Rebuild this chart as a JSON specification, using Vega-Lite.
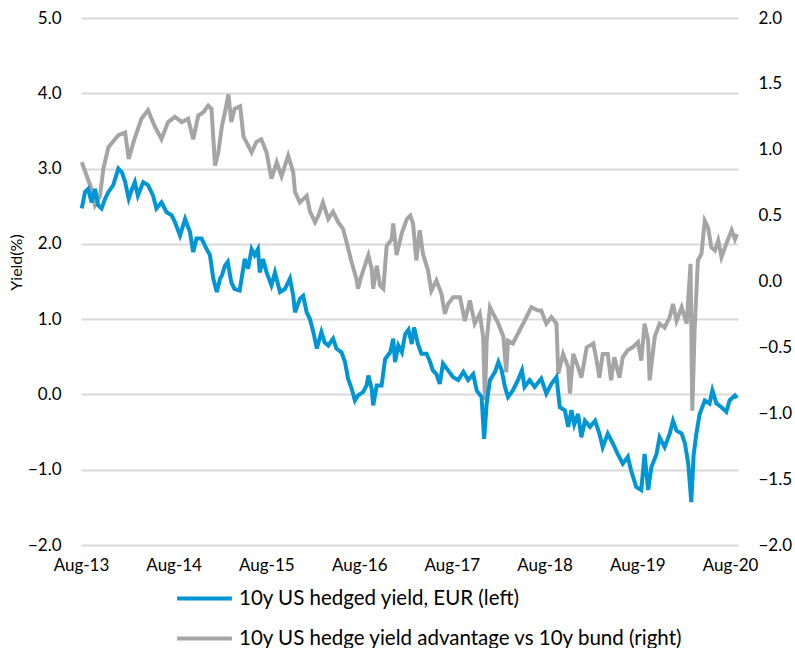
{
  "$schema": "https://vega.github.io/schema/vega-lite/v6.json",
  "autosize": "none",
  "width": 657,
  "height": 527,
  "padding": {"left": 81, "top": 18, "right": 57, "bottom": 103},
  "background": "white",
  "datasets": {
    "hedged": [
      {"date": "2013-08-04", "v": 2.47}, {"date": "2013-08-17", "v": 2.69}, {"date": "2013-08-29", "v": 2.73}, {"date": "2013-09-12", "v": 2.55},
      {"date": "2013-09-25", "v": 2.73}, {"date": "2013-10-08", "v": 2.51}, {"date": "2013-10-21", "v": 2.47}, {"date": "2013-11-04", "v": 2.60},
      {"date": "2013-11-17", "v": 2.69}, {"date": "2013-12-06", "v": 2.78}, {"date": "2013-12-26", "v": 3.00}, {"date": "2014-01-09", "v": 2.95},
      {"date": "2014-01-22", "v": 2.82}, {"date": "2014-02-05", "v": 2.60}, {"date": "2014-02-18", "v": 2.73}, {"date": "2014-03-01", "v": 2.82},
      {"date": "2014-03-13", "v": 2.64}, {"date": "2014-04-03", "v": 2.82}, {"date": "2014-04-22", "v": 2.78}, {"date": "2014-05-12", "v": 2.64},
      {"date": "2014-05-25", "v": 2.47}, {"date": "2014-06-14", "v": 2.55}, {"date": "2014-07-04", "v": 2.42}, {"date": "2014-07-24", "v": 2.38},
      {"date": "2014-08-06", "v": 2.29}, {"date": "2014-08-26", "v": 2.11}, {"date": "2014-09-15", "v": 2.33}, {"date": "2014-10-04", "v": 2.16},
      {"date": "2014-10-17", "v": 1.89}, {"date": "2014-10-30", "v": 2.07}, {"date": "2014-11-19", "v": 2.07}, {"date": "2014-12-09", "v": 1.93},
      {"date": "2014-12-22", "v": 1.85}, {"date": "2015-01-04", "v": 1.54}, {"date": "2015-01-18", "v": 1.36}, {"date": "2015-01-31", "v": 1.54},
      {"date": "2015-02-07", "v": 1.58}, {"date": "2015-02-19", "v": 1.71}, {"date": "2015-03-02", "v": 1.76}, {"date": "2015-03-16", "v": 1.49},
      {"date": "2015-03-29", "v": 1.40}, {"date": "2015-04-18", "v": 1.38}, {"date": "2015-05-08", "v": 1.80}, {"date": "2015-05-21", "v": 1.67},
      {"date": "2015-06-04", "v": 1.93}, {"date": "2015-06-16", "v": 1.85}, {"date": "2015-06-29", "v": 1.93}, {"date": "2015-07-06", "v": 1.62},
      {"date": "2015-07-19", "v": 1.80}, {"date": "2015-08-02", "v": 1.62}, {"date": "2015-08-21", "v": 1.45}, {"date": "2015-09-04", "v": 1.62},
      {"date": "2015-09-24", "v": 1.36}, {"date": "2015-10-13", "v": 1.40}, {"date": "2015-11-02", "v": 1.54}, {"date": "2015-11-15", "v": 1.31},
      {"date": "2015-11-22", "v": 1.09}, {"date": "2015-12-11", "v": 1.27}, {"date": "2015-12-24", "v": 1.31}, {"date": "2016-01-07", "v": 1.09},
      {"date": "2016-01-20", "v": 1.00}, {"date": "2016-02-02", "v": 0.83}, {"date": "2016-02-16", "v": 0.61}, {"date": "2016-03-05", "v": 0.83},
      {"date": "2016-03-18", "v": 0.69}, {"date": "2016-04-01", "v": 0.65}, {"date": "2016-04-20", "v": 0.74}, {"date": "2016-05-03", "v": 0.61},
      {"date": "2016-05-23", "v": 0.56}, {"date": "2016-06-06", "v": 0.43}, {"date": "2016-06-18", "v": 0.21}, {"date": "2016-07-02", "v": 0.076},
      {"date": "2016-07-15", "v": -0.08}, {"date": "2016-07-27", "v": -0.013}, {"date": "2016-08-16", "v": 0.03}, {"date": "2016-08-30", "v": 0.12},
      {"date": "2016-09-06", "v": 0.25}, {"date": "2016-09-19", "v": 0.076}, {"date": "2016-09-25", "v": -0.146}, {"date": "2016-10-09", "v": 0.12},
      {"date": "2016-10-28", "v": 0.12}, {"date": "2016-11-11", "v": 0.47}, {"date": "2016-12-01", "v": 0.56}, {"date": "2016-12-13", "v": 0.74},
      {"date": "2016-12-20", "v": 0.43}, {"date": "2017-01-02", "v": 0.65}, {"date": "2017-01-16", "v": 0.56}, {"date": "2017-01-29", "v": 0.80},
      {"date": "2017-02-11", "v": 0.86}, {"date": "2017-02-24", "v": 0.67}, {"date": "2017-03-05", "v": 0.89}, {"date": "2017-03-20", "v": 0.67},
      {"date": "2017-04-03", "v": 0.54}, {"date": "2017-04-23", "v": 0.54}, {"date": "2017-05-05", "v": 0.45}, {"date": "2017-05-18", "v": 0.32},
      {"date": "2017-06-01", "v": 0.27}, {"date": "2017-06-14", "v": 0.14}, {"date": "2017-06-27", "v": 0.41}, {"date": "2017-07-17", "v": 0.32},
      {"date": "2017-08-06", "v": 0.23}, {"date": "2017-08-26", "v": 0.19}, {"date": "2017-09-15", "v": 0.30}, {"date": "2017-10-04", "v": 0.19},
      {"date": "2017-10-24", "v": 0.27}, {"date": "2017-11-07", "v": 0.05}, {"date": "2017-11-26", "v": -0.036}, {"date": "2017-12-06", "v": -0.59},
      {"date": "2017-12-16", "v": -0.12}, {"date": "2017-12-29", "v": 0.19}, {"date": "2018-01-18", "v": 0.30}, {"date": "2018-01-31", "v": 0.43},
      {"date": "2018-02-13", "v": 0.32}, {"date": "2018-02-26", "v": 0.10}, {"date": "2018-03-10", "v": -0.036}, {"date": "2018-03-29", "v": 0.053},
      {"date": "2018-04-18", "v": 0.19}, {"date": "2018-05-04", "v": 0.32}, {"date": "2018-05-14", "v": 0.10}, {"date": "2018-06-03", "v": 0.19},
      {"date": "2018-06-23", "v": 0.10}, {"date": "2018-07-19", "v": 0.21}, {"date": "2018-08-08", "v": 0.01}, {"date": "2018-08-28", "v": 0.14},
      {"date": "2018-09-17", "v": 0.23}, {"date": "2018-09-30", "v": -0.17}, {"date": "2018-10-20", "v": -0.21}, {"date": "2018-11-02", "v": -0.43},
      {"date": "2018-11-15", "v": -0.21}, {"date": "2018-11-26", "v": -0.40}, {"date": "2018-12-11", "v": -0.26}, {"date": "2018-12-24", "v": -0.57},
      {"date": "2019-01-07", "v": -0.35}, {"date": "2019-01-27", "v": -0.43}, {"date": "2019-02-16", "v": -0.35}, {"date": "2019-03-05", "v": -0.52},
      {"date": "2019-03-18", "v": -0.70}, {"date": "2019-04-07", "v": -0.52}, {"date": "2019-04-27", "v": -0.65}, {"date": "2019-05-16", "v": -0.79},
      {"date": "2019-06-05", "v": -0.92}, {"date": "2019-06-25", "v": -0.83}, {"date": "2019-07-08", "v": -1.01}, {"date": "2019-07-28", "v": -1.23},
      {"date": "2019-08-17", "v": -1.27}, {"date": "2019-08-30", "v": -0.79}, {"date": "2019-09-13", "v": -1.27}, {"date": "2019-09-26", "v": -0.965},
      {"date": "2019-10-16", "v": -0.79}, {"date": "2019-10-28", "v": -0.57}, {"date": "2019-11-17", "v": -0.70}, {"date": "2019-12-07", "v": -0.52},
      {"date": "2019-12-20", "v": -0.35}, {"date": "2020-01-03", "v": -0.48}, {"date": "2020-01-23", "v": -0.52}, {"date": "2020-02-05", "v": -0.65},
      {"date": "2020-02-18", "v": -0.92}, {"date": "2020-03-01", "v": -1.43}, {"date": "2020-03-10", "v": -0.81}, {"date": "2020-03-21", "v": -0.52},
      {"date": "2020-04-03", "v": -0.26}, {"date": "2020-04-23", "v": -0.08}, {"date": "2020-05-12", "v": -0.12}, {"date": "2020-05-23", "v": 0.053},
      {"date": "2020-06-08", "v": -0.12}, {"date": "2020-06-28", "v": -0.17}, {"date": "2020-07-17", "v": -0.23}, {"date": "2020-07-30", "v": -0.08},
      {"date": "2020-08-20", "v": -0.013}, {"date": "2020-08-28", "v": -0.05}
    ],
    "advantage": [
      {"date": "2013-08-04", "v": 0.905}, {"date": "2013-09-12", "v": 0.70}, {"date": "2013-09-25", "v": 0.58}, {"date": "2013-10-15", "v": 0.65},
      {"date": "2013-10-28", "v": 0.855}, {"date": "2013-11-17", "v": 1.02}, {"date": "2013-12-13", "v": 1.08}, {"date": "2013-12-26", "v": 1.11},
      {"date": "2014-01-22", "v": 1.13}, {"date": "2014-02-05", "v": 0.93}, {"date": "2014-02-24", "v": 1.06}, {"date": "2014-03-27", "v": 1.235},
      {"date": "2014-04-22", "v": 1.30}, {"date": "2014-05-18", "v": 1.18}, {"date": "2014-06-14", "v": 1.08}, {"date": "2014-07-10", "v": 1.21},
      {"date": "2014-08-06", "v": 1.25}, {"date": "2014-09-02", "v": 1.21}, {"date": "2014-09-27", "v": 1.235}, {"date": "2014-10-17", "v": 1.08},
      {"date": "2014-11-06", "v": 1.26}, {"date": "2014-11-26", "v": 1.285}, {"date": "2014-12-15", "v": 1.335}, {"date": "2014-12-28", "v": 1.31},
      {"date": "2015-01-11", "v": 0.88}, {"date": "2015-01-24", "v": 0.98}, {"date": "2015-02-07", "v": 1.18}, {"date": "2015-02-19", "v": 1.285},
      {"date": "2015-03-05", "v": 1.42}, {"date": "2015-03-16", "v": 1.21}, {"date": "2015-03-29", "v": 1.31}, {"date": "2015-04-20", "v": 1.33},
      {"date": "2015-05-03", "v": 1.10}, {"date": "2015-05-14", "v": 1.06}, {"date": "2015-06-04", "v": 0.98}, {"date": "2015-06-23", "v": 1.06},
      {"date": "2015-07-12", "v": 1.08}, {"date": "2015-08-02", "v": 0.98}, {"date": "2015-08-21", "v": 0.78}, {"date": "2015-09-11", "v": 0.905},
      {"date": "2015-09-30", "v": 0.80}, {"date": "2015-10-26", "v": 0.955}, {"date": "2015-11-15", "v": 0.83}, {"date": "2015-11-22", "v": 0.68},
      {"date": "2015-12-11", "v": 0.60}, {"date": "2016-01-07", "v": 0.65}, {"date": "2016-01-20", "v": 0.53}, {"date": "2016-02-09", "v": 0.45},
      {"date": "2016-02-22", "v": 0.50}, {"date": "2016-03-11", "v": 0.60}, {"date": "2016-04-01", "v": 0.475}, {"date": "2016-04-20", "v": 0.53},
      {"date": "2016-05-10", "v": 0.45}, {"date": "2016-05-29", "v": 0.40}, {"date": "2016-06-12", "v": 0.30}, {"date": "2016-07-02", "v": 0.146},
      {"date": "2016-07-21", "v": 0.02}, {"date": "2016-07-27", "v": -0.055}, {"date": "2016-08-10", "v": 0.045}, {"date": "2016-09-06", "v": 0.20},
      {"date": "2016-09-19", "v": 0.096}, {"date": "2016-09-25", "v": -0.055}, {"date": "2016-10-09", "v": 0.12}, {"date": "2016-10-22", "v": -0.03},
      {"date": "2016-11-04", "v": -0.055}, {"date": "2016-11-17", "v": 0.27}, {"date": "2016-12-07", "v": 0.32}, {"date": "2016-12-13", "v": 0.44},
      {"date": "2016-12-26", "v": 0.20}, {"date": "2017-01-16", "v": 0.37}, {"date": "2017-02-05", "v": 0.475}, {"date": "2017-02-18", "v": 0.50},
      {"date": "2017-03-01", "v": 0.44}, {"date": "2017-03-14", "v": 0.16}, {"date": "2017-03-27", "v": 0.39}, {"date": "2017-04-09", "v": 0.21},
      {"date": "2017-04-29", "v": 0.083}, {"date": "2017-05-12", "v": -0.07}, {"date": "2017-06-01", "v": 0.008}, {"date": "2017-06-21", "v": -0.093},
      {"date": "2017-07-04", "v": -0.245}, {"date": "2017-07-17", "v": -0.17}, {"date": "2017-08-06", "v": -0.12}, {"date": "2017-09-02", "v": -0.12},
      {"date": "2017-09-21", "v": -0.30}, {"date": "2017-10-11", "v": -0.144}, {"date": "2017-10-30", "v": -0.32}, {"date": "2017-11-19", "v": -0.245},
      {"date": "2017-12-02", "v": -0.42}, {"date": "2017-12-09", "v": -0.90}, {"date": "2017-12-16", "v": -0.45}, {"date": "2017-12-29", "v": -0.195},
      {"date": "2018-01-11", "v": -0.245}, {"date": "2018-01-31", "v": -0.32}, {"date": "2018-02-20", "v": -0.42}, {"date": "2018-03-03", "v": -0.69},
      {"date": "2018-03-10", "v": -0.45}, {"date": "2018-03-29", "v": -0.47}, {"date": "2018-04-25", "v": -0.37}, {"date": "2018-05-14", "v": -0.30},
      {"date": "2018-06-10", "v": -0.195}, {"date": "2018-07-06", "v": -0.22}, {"date": "2018-07-19", "v": -0.22}, {"date": "2018-08-08", "v": -0.32},
      {"date": "2018-08-28", "v": -0.27}, {"date": "2018-09-17", "v": -0.32}, {"date": "2018-09-24", "v": -0.70}, {"date": "2018-10-13", "v": -0.55},
      {"date": "2018-11-02", "v": -0.65}, {"date": "2018-11-09", "v": -0.85}, {"date": "2018-11-22", "v": -0.55}, {"date": "2018-12-11", "v": -0.65},
      {"date": "2018-12-24", "v": -0.73}, {"date": "2019-01-14", "v": -0.50}, {"date": "2019-02-09", "v": -0.47}, {"date": "2019-02-22", "v": -0.60},
      {"date": "2019-03-05", "v": -0.73}, {"date": "2019-03-18", "v": -0.55}, {"date": "2019-04-07", "v": -0.55}, {"date": "2019-04-20", "v": -0.75},
      {"date": "2019-05-03", "v": -0.575}, {"date": "2019-05-23", "v": -0.73}, {"date": "2019-06-05", "v": -0.575}, {"date": "2019-06-25", "v": -0.52},
      {"date": "2019-07-14", "v": -0.50}, {"date": "2019-08-04", "v": -0.46}, {"date": "2019-08-17", "v": -0.60}, {"date": "2019-08-30", "v": -0.32},
      {"date": "2019-09-13", "v": -0.45}, {"date": "2019-09-19", "v": -0.75}, {"date": "2019-10-09", "v": -0.42}, {"date": "2019-10-28", "v": -0.32},
      {"date": "2019-11-17", "v": -0.35}, {"date": "2019-12-07", "v": -0.27}, {"date": "2019-12-20", "v": -0.17}, {"date": "2020-01-03", "v": -0.30},
      {"date": "2020-01-23", "v": -0.195}, {"date": "2020-02-12", "v": -0.32}, {"date": "2020-02-27", "v": 0.134}, {"date": "2020-03-05", "v": -0.98},
      {"date": "2020-03-14", "v": -0.37}, {"date": "2020-03-27", "v": 0.16}, {"date": "2020-04-10", "v": 0.21}, {"date": "2020-04-23", "v": 0.46},
      {"date": "2020-05-06", "v": 0.41}, {"date": "2020-05-19", "v": 0.26}, {"date": "2020-06-02", "v": 0.235}, {"date": "2020-06-15", "v": 0.31},
      {"date": "2020-06-28", "v": 0.184}, {"date": "2020-07-17", "v": 0.286}, {"date": "2020-08-07", "v": 0.39}, {"date": "2020-08-20", "v": 0.32},
      {"date": "2020-08-28", "v": 0.36}
    ]
  },
  "encoding": {
    "x": {
      "field": "date", "type": "temporal",
      "scale": {"domain": ["2013-08-01", "2020-09-01"]},
      "axis": {
        "title": null, "format": "%b-%y", "grid": false, "labelPadding": 12,
        "values": ["2013-08-01", "2014-08-01", "2015-08-01", "2016-08-01", "2017-08-01", "2018-08-01", "2019-08-01", "2020-08-01"],
        "labelFlush": false
      }
    }
  },
  "layer": [
    {
      "data": {"name": "advantage"},
      "mark": {"type": "line", "strokeWidth": 4, "interpolate": "linear"},
      "encoding": {
        "y": {
          "field": "v", "type": "quantitative",
          "scale": {"domain": [-2, 2], "nice": false, "zero": false},
          "axis": {"orient": "right", "title": null, "grid": false, "format": ".1f", "labelPadding": 20,
                   "values": [-2, -1.5, -1, -0.5, 0, 0.5, 1, 1.5, 2]}
        },
        "color": {
          "datum": "10y US hedge yield advantage vs 10y bund (right)",
          "scale": {
            "domain": ["10y US hedged yield, EUR (left)", "10y US hedge yield advantage vs 10y bund (right)"],
            "range": ["#0096D6", "#A5A5A5"]
          }
        }
      }
    },
    {
      "data": {"name": "hedged"},
      "mark": {"type": "line", "strokeWidth": 4, "interpolate": "linear"},
      "encoding": {
        "y": {
          "field": "v", "type": "quantitative",
          "scale": {"domain": [-2, 5], "nice": false, "zero": false},
          "axis": {"orient": "left", "title": "Yield(%)", "titleFontSize": 16, "titleFontWeight": "normal", "titlePadding": 3, "titleY": 244,
                   "grid": true, "gridColor": "#D9D9D9", "gridWidth": 2, "format": ".1f", "labelPadding": 20,
                   "values": [-2, -1, 0, 1, 2, 3, 4, 5]}
        },
        "color": {"datum": "10y US hedged yield, EUR (left)"}
      }
    }
  ],
  "resolve": {"scale": {"y": "independent"}},
  "config": {
    "view": {"stroke": null},
    "font": "Lato",
    "axis": {"labelFont": "Lato", "titleFont": "Lato", "labelColor": "#000", "titleColor": "#000", "labelFontSize": 17, "domain": false, "ticks": false},
    "legend": {
      "orient": "none", "legendX": 94, "legendY": 551, "title": null, "padding": 0,
      "labelFont": "Lato", "labelFontSize": 20.5, "labelColor": "#000", "labelLimit": 0,
      "symbolType": "stroke", "symbolSize": 3000, "symbolStrokeWidth": 4, "rowPadding": -24, "labelOffset": 5
    }
  }
}
